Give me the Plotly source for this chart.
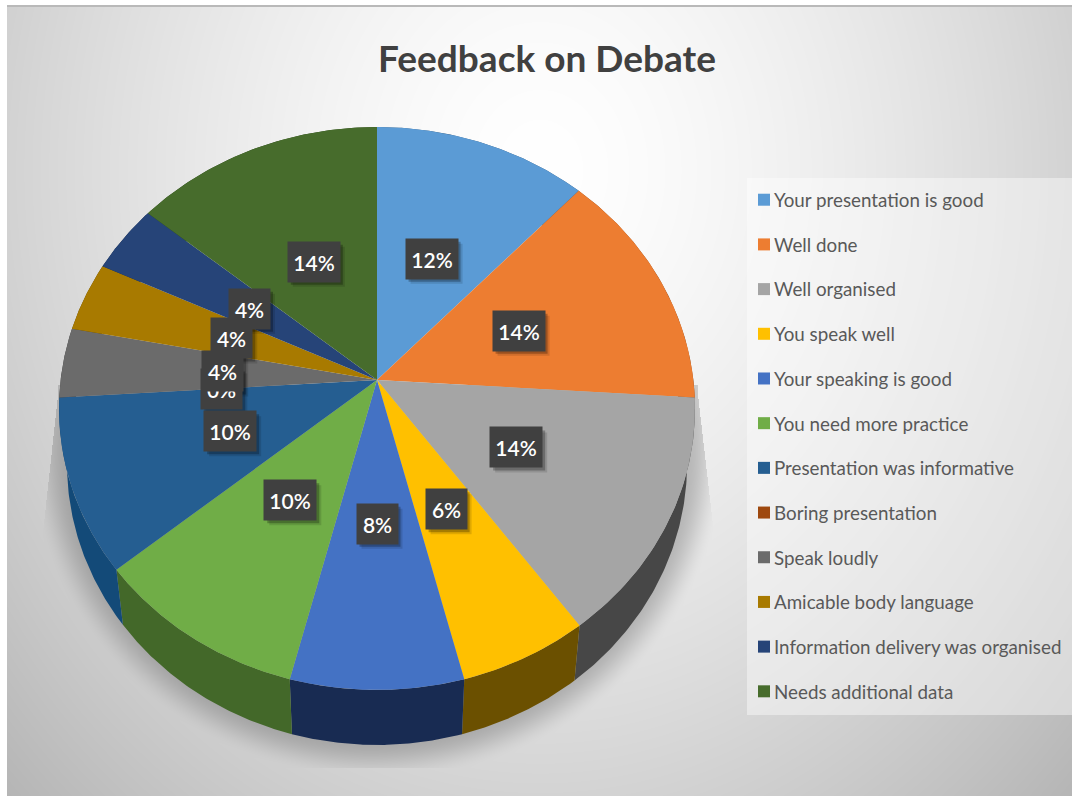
import base64, struct, zlib
import numpy as np
import plotly.graph_objects as go

# ---- chart data ----
title = "Feedback on Debate"
categories = ["Your presentation is good", "Well done", "Well organised", "You speak well",
              "Your speaking is good", "You need more practice", "Presentation was informative",
              "Boring presentation", "Speak loudly", "Amicable body language",
              "Information delivery was organised", "Needs additional data"]
values = [12, 14, 14, 6, 8, 10, 10, 0, 4, 4, 4, 14]
top_colors = ["#5B9BD5", "#ED7D31", "#A5A5A5", "#FFC000", "#4472C4", "#70AD47", "#255E91",
              "#9E480E", "#6B6B6B", "#A87A00", "#264478", "#476C2C"]
wall_colors = ["#34597B", "#8A481C", "#474747", "#6B5000", "#182B52", "#436829", "#134A78",
               "#5B2908", "#3A3A3A", "#5A4400", "#162845", "#27401A"]

# ---- perspective of the tilted pie (page pixels) ----
W, H = 1076, 801
APEX_X, APEX_Y = 377, 380
SCALE_X, SCALE_Y, TILT = 316.4, 278.6, 0.1012
DEPTH, WALL_SHRINK = 55, 0.975
LABEL_R = 0.49


def rim(pct, r=1.0):
    t = np.radians(np.asarray(pct, dtype=float) * 3.6)
    d = 1 + TILT * r * np.cos(t)
    return APEX_X + SCALE_X * r * np.sin(t) / d, APEX_Y - SCALE_Y * r * np.cos(t) / d


def background_uri():
    yy, xx = np.mgrid[0:H, 0:W]
    r = np.sqrt(((xx - 540) / 640.0) ** 2 + ((yy - 170) / 760.0) ** 2)
    g = 255 - 58 * np.clip(r, 0, 1.5) ** 1.5
    # soft shadow of the pie, cut by a slanted box
    s = np.sqrt(((xx - 377) / 340.0) ** 2 + ((yy - 442) / 328.0) ** 2)
    a = np.clip((1.03 - s) / 0.12, 0, 1)
    a = a * a * (3 - 2 * a) * 0.30
    slant = np.clip((yy - 390) / 165.0, 0, 1)
    a[(xx < 58 - 18 * slant) | (xx > 697 + 19 * slant) | (yy > 767) | (yy < 385)] = 0
    g = g * (1 - a) + 60 * a
    g[(xx < 7) | (xx > 1071) | (yy > 795) | (yy < 6)] = 255
    g[(yy >= 5) & (yy < 7) & (xx >= 7) & (xx <= 1071)] = 185
    raw = np.clip(g, 0, 255).astype(np.uint8)
    data = b"".join(b"\x00" + row.tobytes() for row in raw)

    def chunk(tag, body):
        return struct.pack(">I", len(body)) + tag + body + struct.pack(">I", zlib.crc32(tag + body))

    png = (b"\x89PNG\r\n\x1a\n" + chunk(b"IHDR", struct.pack(">IIBBBBB", W, H, 8, 0, 0, 0, 0))
           + chunk(b"IDAT", zlib.compress(data, 9)) + chunk(b"IEND", b""))
    return "data:image/png;base64," + base64.b64encode(png).decode()


fig = go.Figure()
edges = np.concatenate([[0], np.cumsum(values)])

# side walls first, then the top faces cover whatever is hidden
for i, v in enumerate(values):
    if v == 0:
        continue
    p = np.linspace(edges[i], edges[i + 1], 80)
    x, y = rim(p)
    xl = APEX_X + (x - APEX_X) * WALL_SHRINK
    yl = y + DEPTH
    fig.add_trace(go.Scatter(x=np.r_[x, xl[::-1]], y=np.r_[y, yl[::-1]], fill="toself", mode="lines",
                             line=dict(width=0), fillcolor=wall_colors[i], showlegend=False,
                             legendgroup=categories[i], hoverinfo="skip"))
for i, v in enumerate(values):
    if v == 0:
        continue
    p = np.linspace(edges[i], edges[i + 1], 80)
    x, y = rim(p)
    fig.add_trace(go.Scatter(x=np.r_[APEX_X, x, APEX_X], y=np.r_[APEX_Y, y, APEX_Y], fill="toself",
                             mode="lines", line=dict(width=0), fillcolor=top_colors[i], name=categories[i],
                             showlegend=False, legendgroup=categories[i], hoveron="fills",
                             text=f"{categories[i]}: {v}%", hoverinfo="text"))
# legend entries
for i, c in enumerate(categories):
    fig.add_trace(go.Scatter(x=[None], y=[None], mode="markers", name=c, legendgroup=c,
                             marker=dict(symbol="square", size=12, color=top_colors[i])))

# data labels
annotations, shapes = [], []
shapes.append(dict(type="rect", x0=747, x1=1072, y0=178, y1=715, xref="x", yref="y", layer="below",
                   line=dict(width=0), fillcolor="rgba(255,255,255,0.42)"))
for i, v in enumerate(values):
    lx, ly = rim(edges[i] + v / 2, LABEL_R)
    w = 52 if v >= 10 else 41
    for off, op in ((5, 0.12), (3, 0.26)):
        shapes.append(dict(type="rect", x0=lx - w / 2 + off, x1=lx + w / 2 + off, y0=ly - 20 + off, y1=ly + 20 + off,
                           xref="x", yref="y", layer="above", line=dict(width=0), fillcolor=f"rgba(0,0,0,{op})"))
    annotations.append(dict(x=lx, y=ly, xref="x", yref="y", text=f"{v}%", showarrow=False, width=w, height=40,
                            bgcolor="#404040", borderpad=0, valign="middle", align="center",
                            font=dict(family="Lato", size=21, color="white", weight=600)))

fig.update_layout(
    width=W, height=H, margin=dict(l=0, r=0, t=0, b=0), autosize=False,
    paper_bgcolor="white", plot_bgcolor="rgba(0,0,0,0)",
    title=dict(text=title, x=547 / W, xanchor="center", y=1 - 59 / H, yanchor="middle",
               font=dict(family="Lato", size=37, color="#404040", weight=700)),
    xaxis=dict(range=[0, W], visible=False, fixedrange=True),
    yaxis=dict(range=[H, 0], visible=False, fixedrange=True),
    images=[dict(source=background_uri(), xref="paper", yref="paper", x=0, y=1, sizex=1, sizey=1,
                 sizing="stretch", layer="below", xanchor="left", yanchor="top")],
    shapes=shapes, annotations=annotations,
    legend=dict(x=749 / W, y=1 - 181 / H, xanchor="left", yanchor="top", bgcolor="rgba(0,0,0,0)",
                font=dict(family="Lato", size=18.8, color="#595959"), tracegroupgap=17.25,
                indentation=-15, itemclick=False, itemdoubleclick=False),
)
# nudge the legend swatches next to their text (plotly's minimum item width leaves a wider gap)
post = """
document.body.style.margin='0';document.body.style.overflow='hidden';
var gd=document.getElementById('{plot_id}');
function nudge(){gd.querySelectorAll('.legendsymbols').forEach(function(e){e.setAttribute('transform','translate(10,0)');});}
nudge();gd.on('plotly_afterplot',nudge);
"""
fig.write_html("out.html", config=dict(displayModeBar=False), post_script=post)
